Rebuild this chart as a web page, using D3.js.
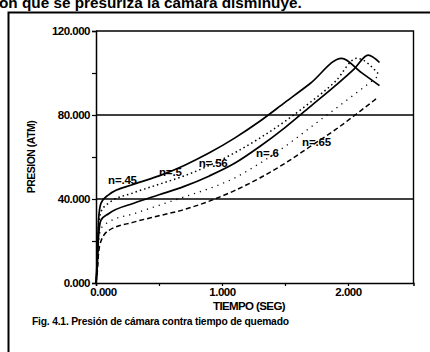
<!DOCTYPE html>
<html><head><meta charset="utf-8">
<script src="https://cdn.jsdelivr.net/npm/d3@7"></script>
<style>
body{margin:0;background:#fff;}
svg{display:block;}
text{font-family:"Liberation Sans",Arial,sans-serif;fill:#000;}
</style></head>
<body>
<script>
// ---- data ----
const seriesNames = ["n=.45", "n=.5", "n=.56", "n=.6", "n=.65"];
const t45 = [0, 0.01, 0.02, 0.04, 0.1, 0.3, 0.5, 0.7, 0.9, 1.1, 1.3, 1.5, 1.7, 1.95, 2.1, 2.25];
const p45 = [0, 12, 30, 38, 42, 47, 51, 56, 62, 69, 77, 86, 95, 107, 100.5, 94];
const t50 = [0, 0.01, 0.02, 0.04, 0.1, 0.3, 0.5, 0.7, 0.9, 1.1, 1.3, 1.5, 1.7, 1.9, 2.07, 2.25];
const p50 = [0, 10, 26, 34, 38, 43, 47, 51, 56, 62, 69, 77, 86, 96, 107, 99];
const t55 = [0, 0.01, 0.02, 0.04, 0.1, 0.3, 0.5, 0.7, 0.9, 1.1, 1.3, 1.5, 1.7, 1.9, 2.05, 2.16, 2.25];
const p55 = [0, 8, 22, 30, 33, 38, 42, 46, 51, 57, 65, 74, 84, 94, 102, 108.5, 105];
const t60 = [0, 0.01, 0.02, 0.04, 0.1, 0.3, 0.5, 0.7, 0.9, 1.1, 1.3, 1.5, 1.7, 1.9, 2.1, 2.25];
const p60 = [0, 7, 18, 26, 29, 33, 37, 41, 45, 50, 57, 65, 74, 83, 92, 99];
const t65 = [0, 0.01, 0.02, 0.04, 0.1, 0.3, 0.5, 0.7, 0.9, 1.1, 1.3, 1.5, 1.7, 1.9, 2.1, 2.23];
const p65 = [0, 5, 14, 20, 25, 29, 32, 35, 39, 44, 50, 57, 65, 73, 82, 88];
const yTicks = [0, 20, 40, 60, 80, 100, 120];
const yLabelled = [0, 40, 80, 120];
const xTicks = [0, 0.5, 1, 1.5, 2];
const xLabelled = [0, 1, 2];
const gridValues = [40, 80];
// label anchor points (time, pressure) for the curve annotations
const labelT = [0.21, 0.59, 0.93, 1.36, 1.75];
const labelP = [49, 53, 57, 62, 67];

const W = 430, H = 352;
const svg = d3.select("body").append("svg").attr("width", W).attr("height", H);

// top cut-off text
svg.append("text").attr("x", -1).attr("y", 8).attr("font-size", 15.3)
  .attr("font-weight", "bold").text("on que se presuriza la cámara disminuye.");

// outer frame
svg.append("path").attr("d", "M8.5,360 V12.5 H432")
  .attr("fill", "none").attr("stroke", "#000").attr("stroke-width", 2);

const x = d3.scaleLinear().domain([0, 2.52]).range([96, 413.5]);
const y = d3.scaleLinear().domain([0, 120]).range([283, 31]);

// plot box (top & right)
svg.append("path")
  .attr("d", `M${x(0)},${y(120)} H${x(2.52)} V${y(0)}`)
  .attr("fill", "none").attr("stroke", "#000").attr("stroke-width", 1.4);

// gridlines
svg.selectAll("line.grid").data(gridValues).join("line").attr("class", "grid")
  .attr("x1", x(0)).attr("x2", x(2.52)).attr("y1", d => y(d)).attr("y2", d => y(d))
  .attr("stroke", "#000").attr("stroke-width", 1.4);

// axes
const fmt = d3.format(".3f");
const yAxis = svg.append("g").attr("transform", `translate(${x(0)},0)`)
  .call(d3.axisLeft(y).tickValues(yTicks).tickSize(4).tickPadding(2)
    .tickFormat(d => yLabelled.includes(d) ? fmt(d) : ""));
const xAxis = svg.append("g").attr("transform", `translate(0,${y(0)})`)
  .call(d3.axisBottom(x).tickValues(xTicks).tickSize(3).tickPadding(2)
    .tickFormat(d => xLabelled.includes(d) ? fmt(d) : ""));
[yAxis, xAxis].forEach(g => {
  g.select(".domain").attr("stroke-width", 1.5);
  g.selectAll(".tick line").attr("stroke-width", 1.2);
  g.selectAll("text").attr("font-size", 11.5).attr("font-weight", "bold")
    .attr("letter-spacing", -0.5).attr("font-family", "'Liberation Sans',Arial,sans-serif");
});
xAxis.selectAll(".tick").filter(d => d === 0).select("text").attr("dx", 7);

// axis titles
svg.append("text").attr("x", 249).attr("y", 310).attr("text-anchor", "middle")
  .attr("font-size", 11.5).attr("font-weight", "bold").attr("letter-spacing", -0.6)
  .text("TIEMPO (SEG)");
svg.append("text").attr("transform", "translate(35,157) rotate(-90)").attr("text-anchor", "middle")
  .attr("font-size", 10.5).attr("font-weight", "bold").attr("letter-spacing", -0.5)
  .text("PRESION (ATM)");

// caption
svg.append("text").attr("x", 32).attr("y", 325).attr("font-size", 10.3)
  .attr("font-weight", "bold").attr("letter-spacing", -0.2)
  .text("Fig. 4.1. Presión de cámara contra tiempo de quemado");

// curves
const series = [
  {t: t45, p: p45, dash: null, w: 1.7},
  {t: t50, p: p50, dash: "1.5,3", w: 1.5},
  {t: t55, p: p55, dash: null, w: 1.7},
  {t: t60, p: p60, dash: "1.2,5", w: 1.3},
  {t: t65, p: p65, dash: "5,3", w: 1.5}
];
const line = d3.line().x(d => x(d[0])).y(d => y(d[1])).curve(d3.curveMonotoneX);
svg.selectAll("path.curve").data(series).join("path").attr("class", "curve")
  .attr("d", s => line(s.t.map((tt, i) => [tt, s.p[i]])))
  .attr("fill", "none").attr("stroke", "#000")
  .attr("stroke-width", s => s.w)
  .attr("stroke-dasharray", s => s.dash);

// curve labels
svg.selectAll("text.lab").data(seriesNames).join("text").attr("class", "lab")
  .attr("x", (d, i) => x(labelT[i])).attr("y", (d, i) => y(labelP[i]))
  .attr("text-anchor", "middle").attr("dominant-baseline", "central")
  .attr("font-size", 11.5).attr("font-weight", "bold").attr("letter-spacing", -0.2)
  .text(d => d);
</script>
</body></html>
